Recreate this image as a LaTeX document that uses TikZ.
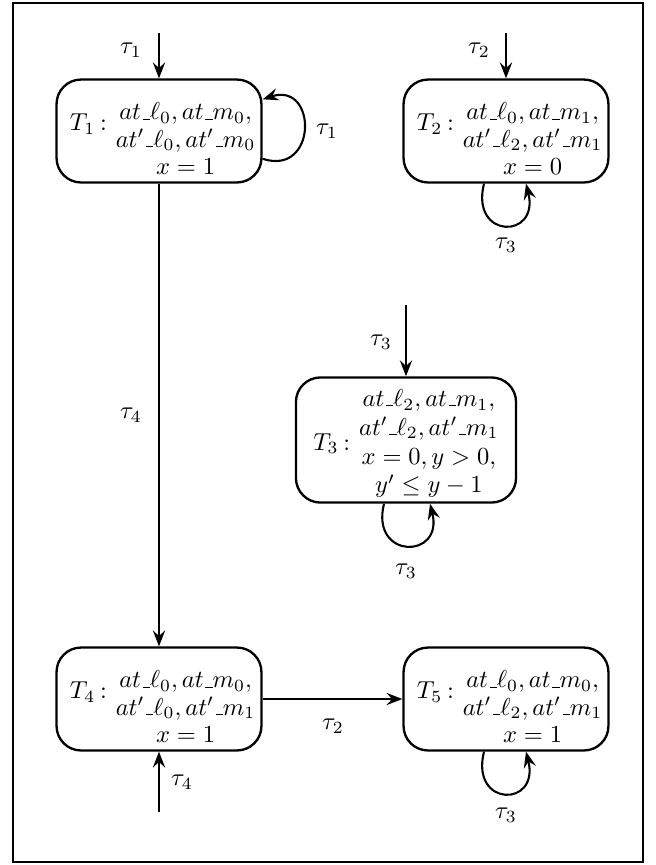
\documentclass[tikz,border=0pt]{standalone}
\usetikzlibrary{calc,arrows.meta}
\newcommand\usc{\mbox{\kern.06em\vbox{\hrule width.3em height .5pt}}}
\newcommand\tlab[2]{\raisebox{#2}{$T_{#1}$\kern2pt:}\hspace{3.6pt}}
\newcommand\shiftdown[2]{\raisebox{-#1}[\height][\depth]{#2}}
\begin{document}
\begin{tikzpicture}[x=0.408pt,y=-0.408pt,
  state/.style={draw, line width=0.95pt, rounded corners=10pt, minimum width=83.6pt, minimum height=42pt, inner sep=2pt},
  bigstate/.style={state, minimum width=89.8pt, minimum height=49pt},
  conn/.style={-{Stealth[length=6.5pt,width=5pt,inset=2.3pt]}, line width=0.85pt},
  lbl/.style={inner sep=1pt}]
\useasboundingbox (0,0) rectangle (656,865);
\draw[line width=1.2pt] (13,3) rectangle (643,862);

\node[state] (T1) at (159,131) {\renewcommand\arraystretch{0.93}\shiftdown{4.4pt}{\hspace{3pt}\tlab{1}{7pt}\begin{tabular}{@{}c@{}}$at\usc\ell_0, at\usc m_0,$\\ $at'\usc\ell_0, at'\usc m_0$\\ $x=1$\end{tabular}}};
\node[state] (T2) at (506,131) {\renewcommand\arraystretch{0.93}\shiftdown{4.4pt}{\hspace{3pt}\tlab{2}{7pt}\begin{tabular}{@{}c@{}}$at\usc\ell_0, at\usc m_1,$\\ $at'\usc\ell_2, at'\usc m_1$\\ $x=0$\end{tabular}}};
\node[bigstate] (T3) at (406,440) {\renewcommand\arraystretch{0.98}\shiftdown{1.6pt}{\tlab{3}{0pt}\begin{tabular}{@{}c@{}}$at\usc\ell_2, at\usc m_1,$\\ $at'\usc\ell_2, at'\usc m_1$\\ $x=0, y>0,$\\ $y'\leq y-1$\end{tabular}}};
\node[state] (T4) at (159,699) {\renewcommand\arraystretch{0.93}\shiftdown{4.4pt}{\hspace{3pt}\tlab{4}{7pt}\begin{tabular}{@{}c@{}}$at\usc\ell_0, at\usc m_0,$\\ $at'\usc\ell_0, at'\usc m_1$\\ $x=1$\end{tabular}}};
\node[state] (T5) at (506,699) {\renewcommand\arraystretch{0.93}\shiftdown{4.4pt}{\hspace{3pt}\tlab{5}{7pt}\begin{tabular}{@{}c@{}}$at\usc\ell_0, at\usc m_0,$\\ $at'\usc\ell_2, at'\usc m_1$\\ $x=1$\end{tabular}}};

\coordinate (i1) at (159,33);
\coordinate (i2) at (506,33);
\coordinate (i3) at (406,305);
\coordinate (i4) at (159,812);

% initial arrows
\draw[conn] (i1) -- (T1.north);
\draw[conn] (i2) -- (T2.north);
\draw[conn] (i3) -- (T3.north);
\draw[conn] (i4) -- (T4.south);

% transitions
\draw[conn] (T1.south) -- (T4.north);
\draw[conn] (T4.east) -- (T5.west);

% self loops
\draw[conn] (T1.-15) .. controls +(55,18) and +(55,-18) .. (T1.17);
\draw[conn] ($(T2.south)+(-22,0)$) .. controls +(-14,56) and +(14,56) .. ($(T2.south)+(20,0)$);
\draw[conn] ($(T3.south)+(-22,0)$) .. controls +(-14,56) and +(14,56) .. ($(T3.south)+(24,0)$);
\draw[conn] ($(T5.south)+(-22,0)$) .. controls +(-14,56) and +(14,56) .. ($(T5.south)+(20,0)$);

% labels
\node[lbl] (l1) at (131,50) {$\tau_1$};
\node[lbl] (l2) at (327,131) {$\tau_1$};
\node[lbl] (l3) at (479,50) {$\tau_2$};
\node[lbl] (l4) at (506,245) {$\tau_3$};
\node[lbl] (l5) at (381,342) {$\tau_3$};
\node[lbl] (l6) at (406,571) {$\tau_3$};
\node[lbl] (l7) at (131,415) {$\tau_4$};
\node[lbl] (l8) at (333,726) {$\tau_2$};
\node[lbl] (l9) at (182,782) {$\tau_4$};
\node[lbl] (l10) at (506,815) {$\tau_3$};
\end{tikzpicture}
\end{document}
